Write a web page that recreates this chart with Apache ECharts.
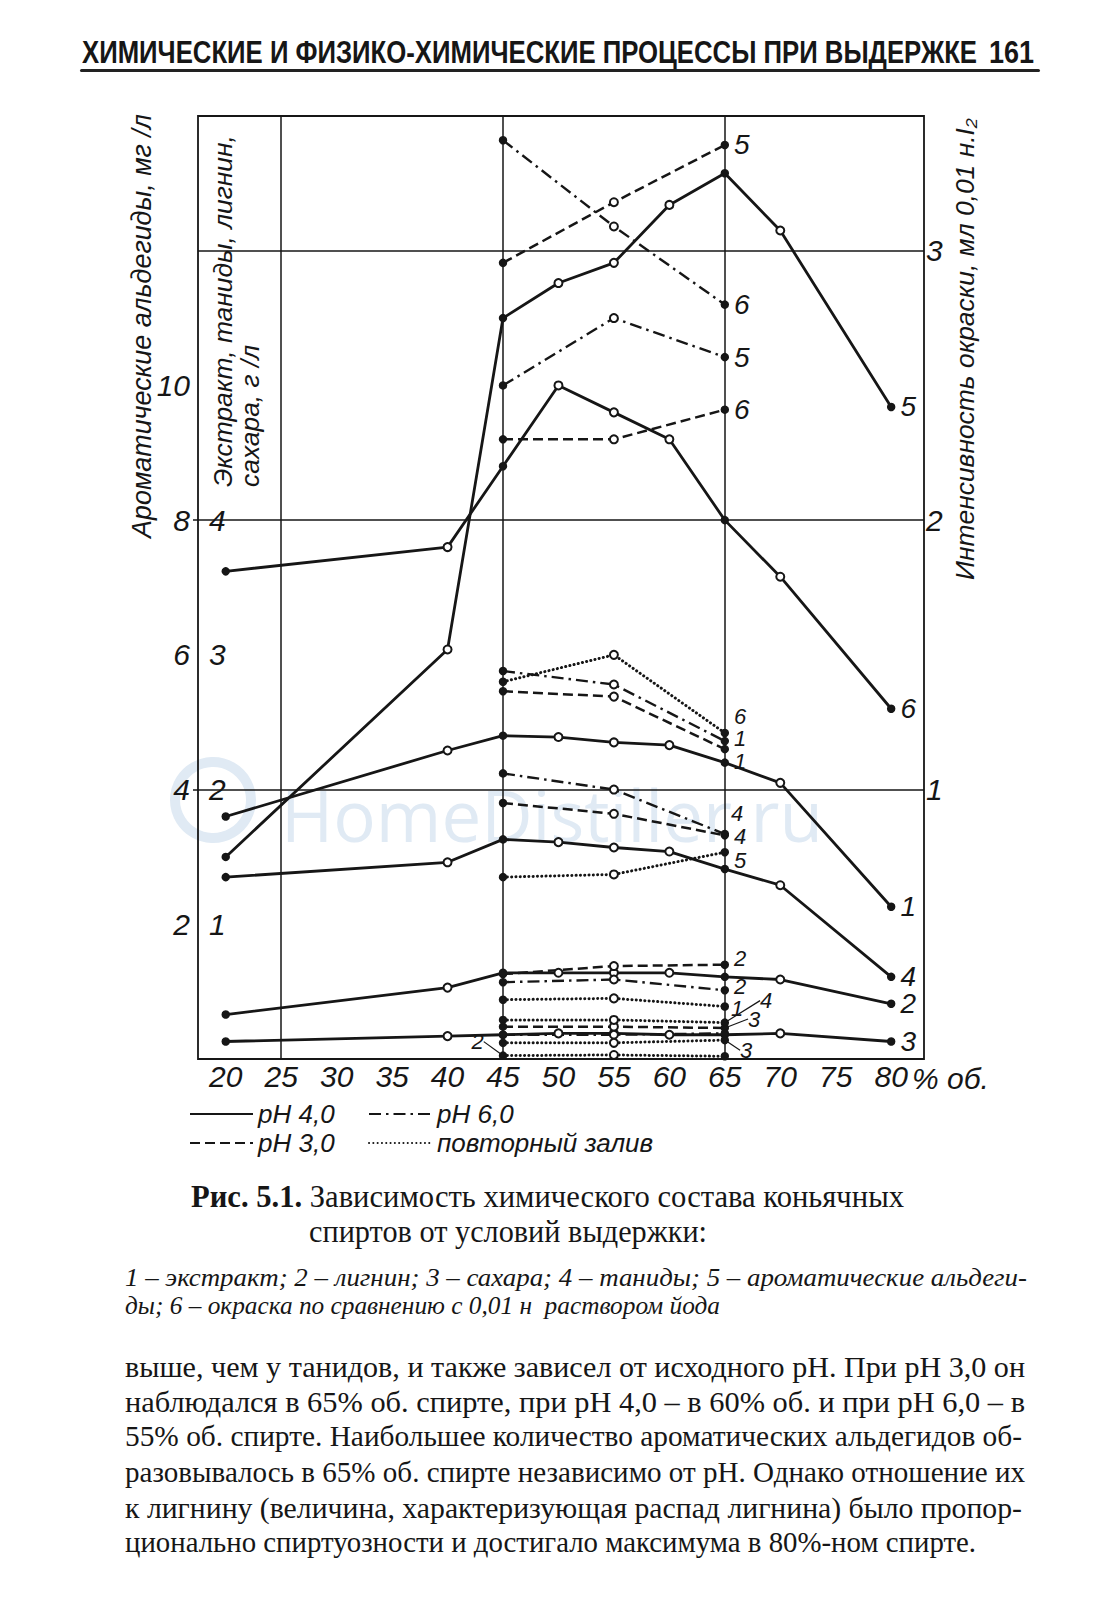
<!DOCTYPE html>
<html><head><meta charset="utf-8">
<script src="https://cdn.jsdelivr.net/npm/echarts@6/dist/echarts.min.js"></script>
<style>
html,body{margin:0;padding:0;background:#fff;}
body{width:1102px;height:1600px;position:relative;overflow:hidden;}
#chart{position:absolute;left:0;top:0;width:1102px;height:1600px;}
.ln{position:absolute;white-space:nowrap;color:#161616;transform-origin:0 0;}
</style></head><body>
<div id="chart"></div>
<script>
// ---------- data ----------
const xFull  = [20, 40, 45, 50, 55, 60, 65, 70, 80];
const xShort = [45, 55, 65];
const xTickLabels = [20, 25, 30, 35, 40, 45, 50, 55, 60, 65, 70, 75, 80];
const aldTicks = [2, 4, 6, 8, 10];       // aromatic aldehydes, mg/l
const extTicks = [1, 2, 3, 4];           // extract, tannins, lignin, sugars, g/l
const colTicks = [1, 2, 3];              // colour intensity, ml 0.01 N I2
const xGrid = [25, 45, 65];
const aldGrid = [4, 8, 12];

// pH 4,0 (solid)
const ext4 = [1.80, 2.29, 2.40, 2.39, 2.35, 2.33, 2.20, 2.05, 1.13];
const lig4 = [0.33, 0.53, 0.64, 0.64, 0.64, 0.64, 0.61, 0.59, 0.41];
const sug4 = [0.13, 0.17, 0.18, 0.19, 0.19, 0.18, 0.18, 0.19, 0.13];
const tan4 = [1.35, 1.46, 1.63, 1.61, 1.57, 1.54, 1.41, 1.29, 0.61];
const ald4 = [3.0, 6.08, 11.0, 11.52, 11.82, 12.68, 13.15, 12.3, 9.68];
const col4 = [1.81, 1.90, 2.20, 2.50, 2.40, 2.30, 2.00, 1.79, 1.30];
// pH 3,0 (dashed)
const ext3 = [2.73, 2.69, 2.30];
const lig3 = [0.63, 0.69, 0.70];
const sug3 = [0.24, 0.24, 0.23];
const tan3 = [1.90, 1.82, 1.66];
const ald3 = [11.82, 12.72, 13.57];
const col3 = [2.30, 2.30, 2.41];
// pH 6,0 (dash-dot)
const ext6 = [2.88, 2.78, 2.36];
const lig6 = [0.57, 0.59, 0.51];
const sug6 = [0.18, 0.18, 0.19];
const tan6 = [2.12, 2.00, 1.67];
const ald6 = [10.0, 11.0, 10.42];
const col6 = [3.41, 3.09, 2.80];
// повторный залив (dotted)
const extR = [0.44, 0.45, 0.39];
const ligR = [0.025, 0.03, 0.02];
const sugR = [0.12, 0.12, 0.14];
const tanR = [0.29, 0.29, 0.27];
const aldR = [2.70, 2.74, 3.07];
const colR = [1.40, 1.50, 1.21];

// ---------- styling ----------
const INK = '#161616';
const FONT = "'Liberation Sans', Arial, sans-serif";
const FILLED = [20, 45, 65, 80];
const STY = {
  'pH 4,0': {type: 'solid', width: 2.8},
  'pH 3,0': {type: [10, 5], width: 2.5},
  'pH 6,0': {type: [12, 5, 2.5, 5], width: 2.4},
  'повторный залив': {type: [0.1, 4.2], width: 3, cap: 'round'}
};

// name, x, y, axisIndex (0 aldehydes, 1 g/l, 2 colour), label, label options
const defs = [
  ['pH 4,0', xFull, ext4, 1, '1'],
  ['pH 4,0', xFull, lig4, 1, '2'],
  ['pH 4,0', xFull, sug4, 1, '3'],
  ['pH 4,0', xFull, tan4, 1, '4'],
  ['pH 4,0', xFull, ald4, 0, '5', {grid: true}],
  ['pH 4,0', xFull, col4, 2, '6'],
  ['pH 3,0', xShort, ext3, 1, '1', {dy: 12, fs: 22}],
  ['pH 3,0', xShort, lig3, 1, '2', {dy: -6, fs: 22}],
  ['pH 3,0', xShort, sug3, 1, '3', {dx: 14, dy: -9, line: true, fs: 22}],
  ['pH 3,0', xShort, tan3, 1, '4', {dy: 1, fs: 22}],
  ['pH 3,0', xShort, ald3, 0, '5'],
  ['pH 3,0', xShort, col3, 2, '6'],
  ['pH 6,0', xShort, ext6, 1, '1', {dy: -3, fs: 22}],
  ['pH 6,0', xShort, lig6, 1, '2', {dy: -4, fs: 22}],
  ['pH 6,0', xShort, sug6, 1, null],
  ['pH 6,0', xShort, tan6, 1, '4', {dx: -3, dy: -21, fs: 22}],
  ['pH 6,0', xShort, ald6, 0, '5'],
  ['pH 6,0', xShort, col6, 2, '6'],
  ['повторный залив', xShort, extR, 1, '1', {dx: -3, dy: 2, fs: 22}],
  ['повторный залив', xShort, ligR, 1, '2', {first: true, dx: -10, dy: -14, line: true, fs: 22}],
  ['повторный залив', xShort, sugR, 1, '3', {dx: 6, dy: 10, line: true, fs: 22}],
  ['повторный залив', xShort, tanR, 1, '4', {dx: 26, dy: -22, line: true, fs: 22}],
  ['повторный залив', xShort, aldR, 0, '5', {dy: 8, fs: 22}],
  ['повторный залив', xShort, colR, 2, '6', {dy: -16, fs: 22}]
];

function buildSeries(d) {
  const name = d[0], xs = d[1], ys = d[2], axis = d[3], lbl = d[4];
  const o = d[5] || {};
  const st = STY[name];
  const li = o.first ? 0 : xs.length - 1;
  const data = xs.map((x, i) => {
    const filled = FILLED.indexOf(x) >= 0;
    const it = {value: [x, ys[i]], symbol: filled ? 'circle' : 'emptyCircle', symbolSize: filled ? 7 : 8};
    if (lbl && i === li) {
      it.label = {show: true, position: o.first ? 'left' : 'right', distance: 5, formatter: lbl,
                  fontSize: o.fs || 28, fontStyle: 'italic', fontFamily: FONT, color: INK};
      if (o.line) it.labelLine = {show: true, lineStyle: {color: INK, width: 1.2}};
    }
    return it;
  });
  const s = {
    type: 'line', name: name, yAxisIndex: axis, data: data,
    lineStyle: {color: INK, width: st.width, type: st.type, cap: st.cap || 'butt'},
    itemStyle: {color: INK, borderColor: INK, borderWidth: 1.5},
    label: {show: false},
    emphasis: {disabled: true},
    clip: false, z: 3
  };
  if (o.dx || o.dy) s.labelLayout = {dx: o.dx || 0, dy: o.dy || 0};
  if (o.grid) {
    s.markLine = {
      silent: true, symbol: 'none', label: {show: false}, z: 1,
      lineStyle: {color: INK, width: 1.5, type: 'solid'},
      data: xGrid.map(v => ({xAxis: v})).concat(aldGrid.map(v => ({yAxis: v})))
    };
  }
  return s;
}

// ---------- text fitting helpers ----------
const mctx = document.createElement('canvas').getContext('2d');
function fitSize(text, style, family, target, base) {
  base = base || 30;
  mctx.font = style + ' ' + base + 'px ' + family;
  return base * target / mctx.measureText(text).width;
}

const titleA = 'Ароматические альдегиды, мг /л';
const titleE1 = 'Экстракт, таниды, лигнин,';
const titleE2 = 'сахара, г /л';
const titleI = 'Интенсивность окраски, мл 0,01 н.I₂';
const wm = 'HomeDistiller.ru';

const sA = fitSize(titleA, 'italic', FONT, 424);
const sE = fitSize(titleE1, 'italic', FONT, 352);
const sI = fitSize(titleI, 'italic', FONT, 462);
const sW = fitSize(wm, 'normal', "'Open Sans', sans-serif", 542);

const legendCommon = {
  orient: 'horizontal', itemWidth: 63, itemHeight: 10, padding: 0, itemGap: 0,
  selectedMode: false, itemStyle: {opacity: 0},
  textStyle: {fontSize: 26, fontStyle: 'italic', fontFamily: FONT, color: INK, padding: [0, 0, 0, 0]}
};

const chart = echarts.init(document.getElementById('chart'), null, {renderer: 'svg', width: 1102, height: 1600});
chart.setOption({
  animation: false,
  backgroundColor: '#fff',
  textStyle: {fontFamily: FONT},
  grid: {left: 198, right: 178, top: 116, bottom: 541, show: true, borderColor: INK, borderWidth: 1.8, backgroundColor: 'transparent'},
  xAxis: {
    type: 'value', min: 17.5, max: 82.96,
    axisLine: {show: false}, axisTick: {show: false}, splitLine: {show: false},
    axisLabel: {customValues: xTickLabels, fontSize: 30, fontStyle: 'italic', fontFamily: FONT, color: INK, margin: 2}
  },
  yAxis: [
    {type: 'value', min: 0, max: 14, position: 'left',
     axisLine: {show: false}, splitLine: {show: false},
     axisTick: {show: true, customValues: [4, 8], length: 5, lineStyle: {color: INK, width: 1.5}},
     axisLabel: {customValues: aldTicks, fontSize: 30, fontStyle: 'italic', fontFamily: FONT, color: INK, margin: 8}},
    {type: 'value', min: 0, max: 7, position: 'left',
     axisLine: {show: false}, splitLine: {show: false}, axisTick: {show: false},
     axisLabel: {inside: true, customValues: extTicks, fontSize: 30, fontStyle: 'italic', fontFamily: FONT, color: INK, margin: 11}},
    {type: 'value', min: 0, max: 3.5, position: 'right',
     axisLine: {show: false}, splitLine: {show: false}, axisTick: {show: false},
     axisLabel: {customValues: colTicks, fontSize: 30, fontStyle: 'italic', fontFamily: FONT, color: INK, margin: 2}}
  ],
  legend: [
    Object.assign({}, legendCommon, {data: ['pH 4,0'], left: 189, top: 1101}),
    Object.assign({}, legendCommon, {data: ['pH 6,0'], left: 368, top: 1101}),
    Object.assign({}, legendCommon, {data: ['pH 3,0'], left: 189, top: 1130}),
    Object.assign({}, legendCommon, {data: ['повторный залив'], left: 368, top: 1130})
  ],
  graphic: [
    {type: 'circle', z: -10, silent: true, shape: {cx: 213, cy: 800, r: 38}, style: {fill: 'none', stroke: '#e0eaf4', lineWidth: 10}},
    {type: 'text', z: -10, silent: true, x: 281, y: 814, style: {text: wm, fontSize: sW, fontFamily: "'Open Sans', sans-serif", fill: '#e0eaf4', align: 'left', verticalAlign: 'middle'}},
    {type: 'text', x: 142, y: 326, rotation: Math.PI / 2, style: {text: titleA, fontSize: sA, fontStyle: 'italic', fontFamily: FONT, fill: INK, align: 'center', verticalAlign: 'middle'}},
    {type: 'text', x: 223, y: 487, rotation: Math.PI / 2, style: {text: titleE1, fontSize: sE, fontStyle: 'italic', fontFamily: FONT, fill: INK, align: 'left', verticalAlign: 'middle'}},
    {type: 'text', x: 250, y: 487, rotation: Math.PI / 2, style: {text: titleE2, fontSize: sE, fontStyle: 'italic', fontFamily: FONT, fill: INK, align: 'left', verticalAlign: 'middle'}},
    {type: 'text', x: 965, y: 349, rotation: Math.PI / 2, style: {text: titleI, fontSize: sI, fontStyle: 'italic', fontFamily: FONT, fill: INK, align: 'center', verticalAlign: 'middle'}},
    {type: 'text', x: 912, y: 1078, style: {text: '% об.', fontSize: 30, fontStyle: 'italic', fontFamily: FONT, fill: INK, align: 'left', verticalAlign: 'middle'}}
  ],
  series: defs.map(buildSeries)
});

// ---------- page text ----------
function line(html, left, baseline, width, F, family, extra) {
  const d = document.createElement('div');
  d.className = 'ln';
  d.style.left = left + 'px';
  d.style.top = (baseline - 0.84 * F) + 'px';
  d.style.fontSize = F + 'px';
  d.style.lineHeight = F + 'px';
  d.style.fontFamily = family;
  if (extra) d.style.cssText += extra;
  d.innerHTML = html;
  document.body.appendChild(d);
  const w = d.getBoundingClientRect().width;
  d.style.transform = 'scaleX(' + (width / w) + ')';
  return d;
}
const SANSN = "'Liberation Sans Narrow','Liberation Sans',Arial,sans-serif";
const SERIF = "'Liberation Serif','Times New Roman',serif";

line('ХИМИЧЕСКИЕ И ФИЗИКО-ХИМИЧЕСКИЕ ПРОЦЕССЫ ПРИ ВЫДЕРЖКЕ', 82, 63, 895, 31, SANSN, 'font-weight:bold;');
line('161', 989, 63, 45, 31, SANSN, 'font-weight:bold;');
const rule = document.createElement('div');
rule.style.cssText = 'position:absolute;left:80px;top:69px;width:960px;height:3px;background:#222;border-radius:2px;';
document.body.appendChild(rule);

line('<b>Рис. 5.1.</b> Зависимость химического состава коньячных', 191, 1207, 713, 31, SERIF);
line('спиртов от условий выдержки:', 309, 1242, 398, 31, SERIF);
line('1 – экстракт; 2 – лигнин; 3 – сахара; 4 – таниды; 5 – ароматические альдеги-', 125, 1287, 902, 26, SERIF, 'font-style:italic;');
line('ды; 6 – окраска по сравнению с 0,01 н&nbsp; раствором йода', 125, 1315, 595, 26, SERIF, 'font-style:italic;');

const body = [
  ['выше, чем у танидов, и также зависел от исходного pH. При pH 3,0 он', 900],
  ['наблюдался в 65% об. спирте, при pH 4,0 – в 60% об. и при pH 6,0 – в', 900],
  ['55% об. спирте. Наибольшее количество ароматических альдегидов об-', 897],
  ['разовывалось в 65% об. спирте независимо от pH. Однако отношение их', 900],
  ['к лигнину (величина, характеризующая распад лигнина) было пропор-', 897],
  ['ционально спиртуозности и достигало максимума в 80%-ном спирте.', 851]
];
const bodyBase = [1377, 1412, 1446, 1482, 1518, 1552];
body.forEach((b, i) => line(b[0], 125, bodyBase[i], b[1], 30, SERIF));
</script>
</body></html>
